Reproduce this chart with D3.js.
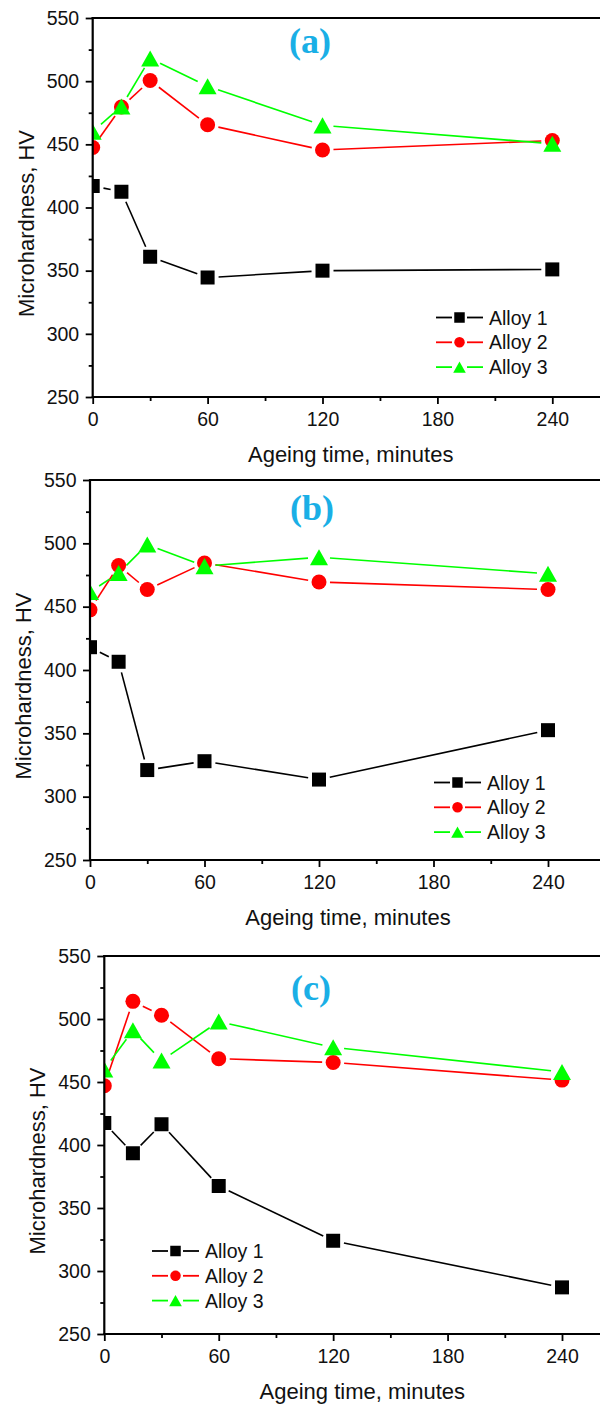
<!DOCTYPE html>
<html>
<head>
<meta charset="utf-8">
<script src="https://cdn.jsdelivr.net/npm/d3@7"></script>
<style>
  body { margin: 0; background: #fff; }
  svg { display: block; font-family: "Liberation Sans", Arial, sans-serif; }
</style>
</head>
<body>
<svg></svg>
<script>
const width = 600;
const height = 1404;

// ageing times (minutes) and tick values
const times = [0, 15, 30, 60, 120, 240];
const xTicks = [0, 60, 120, 180, 240];
const xMinorTicks = [30, 90, 150, 210, 270];
const yTicks = [250, 300, 350, 400, 450, 500, 550];
const yMinorTicks = [275, 325, 375, 425, 475, 525];
const seriesNames = ["Alloy 1", "Alloy 2", "Alloy 3"];
const panelLabels = ["(a)", "(b)", "(c)"];

// microhardness values, HV
const alloy1A = [417, 412.5, 361, 344.5, 350, 351];
const alloy2A = [447.5, 479.5, 500.5, 465.5, 445.5, 453];
const alloy3A = [460, 480, 518, 496, 465, 450.5];

const alloy1B = [418, 406.5, 321, 328, 313.5, 352.5];
const alloy2B = [447.5, 482.5, 463.5, 484.5, 469.5, 463.5];
const alloy3B = [461.5, 476.5, 499, 482, 489, 476];

const alloy1C = [417.5, 393.5, 416.5, 367.5, 324, 287];
const alloy2C = [447, 514, 503, 468.5, 465.5, 451.5];
const alloy3C = [460, 491, 467, 498, 477.5, 458];

const colors = ["#000000", "#ff0000", "#00ff00"];
const shapes = ["square", "circle", "triangle"];
const markerSizes = [14, 15, 15];

// layout of the three stacked panels
const panels = [
  { label: panelLabels[0], series: [alloy1A, alloy2A, alloy3A], x0: 92.7, x240: 552.3, top: 18, bottom: 397,
    labelX: 310, labelY: 53, legX: 436, legY: 317.5 },
  { label: panelLabels[1], series: [alloy1B, alloy2B, alloy3B], x0: 90, x240: 548, top: 480, bottom: 860,
    labelX: 312, labelY: 520, legX: 434, legY: 782.5 },
  { label: panelLabels[2], series: [alloy1C, alloy2C, alloy3C], x0: 104.3, x240: 562, top: 956, bottom: 1334,
    labelX: 311, labelY: 1000, legX: 152, legY: 1251 }
];

const svg = d3.select('svg')
  .attr('width', width)
  .attr('height', height);

function markerPath(shape, s) {
  const h = s / 2;
  if (shape === "square") return `M${-h},${-h}H${h}V${h}H${-h}Z`;
  if (shape === "circle") return `M${h},0A${h},${h} 0 1,1 ${-h},0A${h},${h} 0 1,1 ${h},0Z`;
  const w = s * 1.2, th = s * 1.07;
  return `M0,${-th / 2}L${w / 2},${th / 2}L${-w / 2},${th / 2}Z`;
}

panels.forEach((p, pi) => {
  const x = d3.scaleLinear().domain([0, 240]).range([p.x0, p.x240]);
  const y = d3.scaleLinear().domain([250, 550]).range([p.bottom, p.top]);
  const g = svg.append('g');

  // clip so markers at t = 0 are cut by the left axis
  const clipId = 'clip' + pi;
  g.append('clipPath').attr('id', clipId)
    .append('rect')
      .attr('x', p.x0).attr('y', p.top - 20)
      .attr('width', width - p.x0).attr('height', p.bottom - p.top + 20);

  const plot = g.append('g').attr('clip-path', `url(#${clipId})`);

  p.series.forEach((vals, si) => {
    const pts = vals.map((v, i) => [x(times[i]), y(v)]);
    const segs = [];
    for (let i = 0; i < pts.length - 1; i++) {
      const [x1, y1] = pts[i], [x2, y2] = pts[i + 1];
      const len = Math.hypot(x2 - x1, y2 - y1);
      const gap = 11;
      if (len <= gap * 2) continue;
      const ux = (x2 - x1) / len, uy = (y2 - y1) / len;
      segs.push([x1 + ux * gap, y1 + uy * gap, x2 - ux * gap, y2 - uy * gap]);
    }
    plot.append('g')
      .selectAll('line')
      .data(segs)
      .enter().append('line')
        .attr('x1', d => d[0]).attr('y1', d => d[1])
        .attr('x2', d => d[2]).attr('y2', d => d[3])
        .attr('stroke', colors[si])
        .attr('stroke-width', 1.6);
    plot.append('g')
      .selectAll('path')
      .data(pts)
      .enter().append('path')
        .attr('transform', d => `translate(${d[0]},${d[1]})`)
        .attr('d', markerPath(shapes[si], markerSizes[si]))
        .attr('fill', colors[si]);
  });

  // axes
  g.append('g')
    .attr('transform', `translate(0,${p.bottom})`)
    .call(d3.axisBottom(x).tickValues(xTicks).tickSize(7).tickSizeOuter(0).tickPadding(8.5));
  g.append('g')
    .attr('transform', `translate(0,${p.bottom})`)
    .call(d3.axisBottom(x).tickValues(xMinorTicks).tickSize(4).tickFormat(''));
  g.append('g')
    .attr('transform', `translate(${p.x0},0)`)
    .call(d3.axisLeft(y).tickValues(yTicks).tickSize(7).tickSizeOuter(0).tickPadding(6.5));
  g.append('g')
    .attr('transform', `translate(${p.x0},0)`)
    .call(d3.axisLeft(y).tickValues(yMinorTicks).tickSize(4).tickFormat(''));

  g.selectAll('.domain').remove();
  g.selectAll('.tick line').attr('stroke', '#000').attr('stroke-width', 1.8);
  g.selectAll('.tick text')
    .attr('fill', '#111')
    .attr('font-size', 19.5)
    .attr('font-family', '"Liberation Sans", Arial, sans-serif');

  // frame lines: left, bottom, top (right side falls outside the picture)
  g.append('line')
    .attr('x1', p.x0).attr('x2', p.x0)
    .attr('y1', p.top - 1).attr('y2', p.bottom + 1)
    .attr('stroke', '#000').attr('stroke-width', 2.2);
  g.append('line')
    .attr('x1', p.x0 - 1).attr('x2', width)
    .attr('y1', p.bottom).attr('y2', p.bottom)
    .attr('stroke', '#000').attr('stroke-width', 2.2);
  g.append('line')
    .attr('x1', p.x0 - 1).attr('x2', width)
    .attr('y1', p.top).attr('y2', p.top)
    .attr('stroke', '#000').attr('stroke-width', 2.2);

  // axis titles
  g.append('text')
    .text('Ageing time, minutes')
    .attr('x', p.x0 + 258)
    .attr('y', p.bottom + 65)
    .attr('text-anchor', 'middle')
    .attr('font-size', 22)
    .attr('fill', '#111');
  g.append('text')
    .text('Microhardness, HV')
    .attr('transform', `translate(${p.x0 - 59},${(p.top + p.bottom) / 2 + 16}) rotate(-90)`)
    .attr('text-anchor', 'middle')
    .attr('font-size', 22)
    .attr('fill', '#111');

  // panel label
  g.append('text')
    .text(p.label)
    .attr('x', p.labelX)
    .attr('y', p.labelY)
    .attr('text-anchor', 'middle')
    .style('font-family', '"Liberation Serif", "Times New Roman", serif')
    .attr('font-weight', 'bold')
    .attr('font-size', 36)
    .attr('fill', '#1aafe6');

  // legend
  const leg = g.append('g')
    .selectAll('g')
    .data(seriesNames)
    .enter().append('g')
      .attr('transform', (d, i) => `translate(${p.legX},${p.legY + i * 24.8})`);
  leg.append('line')
    .attr('x1', 0).attr('x2', 16).attr('y1', 0).attr('y2', 0)
    .attr('stroke', (d, i) => colors[i]).attr('stroke-width', 1.8);
  leg.append('line')
    .attr('x1', 31).attr('x2', 47).attr('y1', 0).attr('y2', 0)
    .attr('stroke', (d, i) => colors[i]).attr('stroke-width', 1.8);
  leg.append('path')
    .attr('transform', 'translate(23.5,0)')
    .attr('d', (d, i) => markerPath(shapes[i], 10.5))
    .attr('fill', (d, i) => colors[i]);
  leg.append('text')
    .text(d => d)
    .attr('x', 53)
    .attr('dy', '0.36em')
    .attr('font-size', 19.5)
    .attr('fill', '#111');
});
</script>
</body>
</html>
